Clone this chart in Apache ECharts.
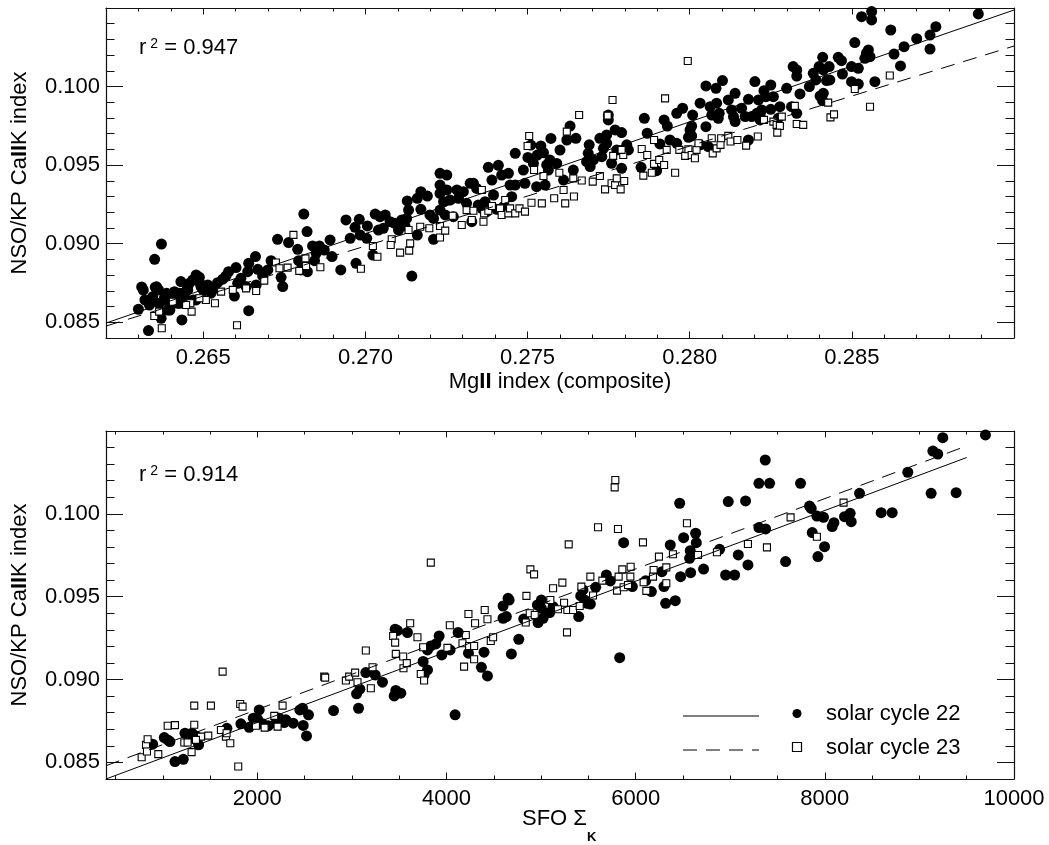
<!DOCTYPE html>
<html>
<head>
<meta charset="utf-8">
<script src="https://cdn.jsdelivr.net/npm/echarts@6/dist/echarts.min.js"></script>
<style>
html, body { margin: 0; padding: 0; background: #fff; }
#chart { width: 1049px; height: 845px; }
</style>
</head>
<body>
<div id="chart"></div>
<script>
var FONT = "'Liberation Sans', Arial, Helvetica, sans-serif";

// tick values
var mgMajor = [0.265, 0.270, 0.275, 0.280, 0.285];
var mgMinor = [0.263, 0.264, 0.266, 0.267, 0.268, 0.269, 0.271, 0.272, 0.273, 0.274, 0.276, 0.277, 0.278, 0.279, 0.281, 0.282, 0.283, 0.284, 0.286, 0.287, 0.288, 0.289];
var caMajor = [0.085, 0.090, 0.095, 0.100];
var caMinor = [0.086, 0.087, 0.088, 0.089, 0.091, 0.092, 0.093, 0.094, 0.096, 0.097, 0.098, 0.099, 0.101, 0.102, 0.103, 0.104];
var sfoMajor = [2000, 4000, 6000, 8000, 10000];
var sfoMinor = [500, 1000, 1500, 2500, 3000, 3500, 4500, 5000, 5500, 6500, 7000, 7500, 8500, 9000, 9500];

// MgII index vs CaIIK, solar cycle 22
var mg22 = [
  [0.26331,0.08447],[0.26300,0.08583],[0.26310,0.08725],[0.26350,0.08901],[0.26371,0.08998],[0.26320,0.08642],[0.26334,0.08610],[0.26352,0.08723],
  [0.26362,0.08706],[0.26344,0.08663],[0.26364,0.08621],[0.26380,0.08653],[0.26370,0.08525],[0.26390,0.08578],[0.26395,0.08621],[0.26406,0.08663],
  [0.26411,0.08695],[0.26421,0.08621],[0.26431,0.08759],[0.26434,0.08515],[0.26442,0.08663],[0.26452,0.08706],[0.26457,0.08748],[0.26467,0.08769],
  [0.26478,0.08801],[0.26488,0.08786],[0.26493,0.08727],[0.26478,0.08642],[0.26503,0.08706],[0.26514,0.08738],[0.26524,0.08685],[0.26534,0.08716],
  [0.26544,0.08752],[0.26560,0.08774],[0.26570,0.08795],[0.26578,0.08822],[0.26596,0.08667],[0.26601,0.08848],[0.26606,0.08748],[0.26616,0.08780],
  [0.26632,0.08727],[0.26637,0.08822],[0.26640,0.08875],[0.26640,0.08574],[0.26661,0.08918],[0.26668,0.08837],[0.26663,0.08738],[0.26683,0.08795],
  [0.26699,0.08833],[0.26709,0.08892],[0.26729,0.09028],[0.26740,0.08786],[0.26745,0.08727],[0.26763,0.09007],[0.26791,0.08964],[0.26794,0.08892],
  [0.26810,0.09189],[0.26820,0.09077],[0.26821,0.08822],[0.26801,0.08833],[0.26837,0.08986],[0.26848,0.08939],[0.26858,0.08986],[0.26873,0.08960],
  [0.26891,0.09024],[0.26897,0.08918],[0.26843,0.08892],
  [0.26315,0.08705],[0.26356,0.08726],[0.26387,0.08684],[0.26408,0.08642],[0.26428,0.08684],[0.26449,0.08705],[0.26480,0.08790],[0.26490,0.08748],
  [0.26511,0.08726],[0.26367,0.08557],[0.26397,0.08578],[0.26428,0.08621],[0.26469,0.08642],[0.26500,0.08705],
  [0.26924,0.08833],[0.26971,0.08875],[0.27023,0.08928],[0.27143,0.08794],[0.26940,0.09151],[0.26981,0.09155],[0.26968,0.09104],[0.27006,0.09113],
  [0.26953,0.09034],[0.26984,0.09055],[0.27004,0.09034],[0.27030,0.09189],[0.27045,0.09172],[0.27061,0.09183],[0.27040,0.09087],[0.27055,0.09098],
  [0.27076,0.09140],[0.27091,0.09130],[0.27102,0.09087],[0.27112,0.09151],[0.27127,0.09161],[0.27122,0.09113],[0.27133,0.09214],[0.27129,0.09272],
  [0.27160,0.09289],[0.27171,0.09331],[0.27191,0.09303],[0.27171,0.09219],[0.27199,0.09183],[0.27210,0.09161],[0.27160,0.09055],[0.27210,0.09028],
  [0.27230,0.09448],[0.27251,0.09437],[0.27230,0.09373],[0.27230,0.09320],[0.27251,0.09342],[0.27241,0.09267],[0.27230,0.09214],[0.27246,0.09183],
  [0.27271,0.09172],[0.27261,0.09278],[0.27282,0.09342],[0.27287,0.09289],[0.27302,0.09331],[0.27312,0.09257],[0.27323,0.09384],[0.27333,0.09384],
  [0.27343,0.09352],[0.27328,0.09140],[0.27348,0.09246],[0.27359,0.09225],[0.27369,0.09267],[0.27379,0.09486],[0.27395,0.09310],[0.27390,0.09405],
  [0.27410,0.09499],[0.27420,0.09437],[0.27441,0.09448],[0.27446,0.09373],[0.27451,0.09299],[0.27462,0.09575],[0.27462,0.09373],[0.27487,0.09469],
  [0.27492,0.09384],[0.27501,0.09549],[0.27510,0.09628],[0.27518,0.09511],[0.27530,0.09564],[0.27541,0.09622],[0.27549,0.09579],[0.27559,0.09501],
  [0.27569,0.09532],[0.27572,0.09670],[0.27590,0.09511],[0.27600,0.09596],[0.27611,0.09405],[0.27528,0.09363],[0.27554,0.09373],[0.27564,0.09469],
  [0.27431,0.09214],[0.27426,0.09236],[0.27374,0.09204],[0.27405,0.09219],
  [0.27631,0.09749],[0.27621,0.09660],[0.27641,0.09469],[0.27649,0.09671],[0.27690,0.09629],[0.27682,0.09522],[0.27693,0.09491],[0.27687,0.09575],
  [0.27703,0.09533],[0.27723,0.09671],[0.27729,0.09554],[0.27734,0.09607],[0.27744,0.09639],[0.27744,0.09692],[0.27749,0.09819],[0.27749,0.09788],
  [0.27759,0.09512],[0.27770,0.09724],[0.27790,0.09707],[0.27775,0.09597],[0.27806,0.09629],[0.27811,0.09597],[0.27790,0.09480],[0.27850,0.09486],
  [0.27860,0.09798],[0.27869,0.09703],[0.27898,0.09465],[0.27908,0.09635],[0.27921,0.09788],[0.27931,0.09749],[0.27939,0.09660],[0.27960,0.09830],
  [0.27960,0.09639],[0.27978,0.09862],[0.27996,0.09677],[0.28001,0.09724],[0.28006,0.09749],[0.28009,0.09819],[0.28006,0.09686],[0.28032,0.09894],
  [0.28032,0.09629],[0.28050,0.10004],[0.28050,0.09745],[0.28057,0.09618],[0.28063,0.09872],[0.28068,0.09819],[0.28081,0.09989],[0.28083,0.09894],
  [0.28088,0.09798],[0.28091,0.09830],[0.28101,0.10038],[0.28119,0.09915],[0.28129,0.09851],[0.28135,0.09809],[0.28140,0.09957],[0.28140,0.09777],
  [0.28160,0.09862],[0.28171,0.09809],[0.28181,0.09660],[0.28181,0.09919],[0.28201,0.10032],[0.28207,0.09830],[0.28212,0.09915],[0.28217,0.09788],
  [0.28222,0.09851],[0.28229,0.09974],[0.28235,0.09936],[0.28250,0.10010],[0.28250,0.09855],[0.28258,0.09936],[0.28273,0.09798],[0.28278,0.09872],
  [0.28299,0.09989],[0.28217,0.09820],[0.28191,0.09809],
  [0.28319,0.10127],[0.28330,0.10106],[0.28330,0.10067],[0.28314,0.09872],[0.28330,0.09830],[0.28340,0.09953],[0.28369,0.10000],[0.28381,0.10084],
  [0.28389,0.10042],[0.28399,0.10127],[0.28410,0.10186],[0.28412,0.10106],[0.28430,0.10127],[0.28422,0.10038],[0.28432,0.10042],[0.28402,0.09940],
  [0.28412,0.09957],[0.28410,0.09910],[0.28458,0.10186],[0.28468,0.10165],[0.28471,0.10080],[0.28499,0.10127],[0.28520,0.10116],[0.28499,0.10031],
  [0.28520,0.10016],[0.28509,0.10280],[0.28530,0.10445],[0.28561,0.10477],[0.28561,0.10424],[0.28540,0.10180],[0.28551,0.10233],[0.28545,0.10212],
  [0.28556,0.10190],[0.28571,0.10031],[0.28620,0.10360],[0.28630,0.10207],[0.28650,0.10131],[0.28661,0.10254],[0.28700,0.10305],[0.28741,0.10328],
  [0.28741,0.10239],[0.28759,0.10381],[0.28890,0.10462]
];

// MgII index vs CaIIK, solar cycle 23
var mg23 = [
  [0.26372,0.08462],[0.26604,0.08481],[0.26349,0.08540],[0.26364,0.08568],[0.26464,0.08568],[0.26460,0.08621],[0.26536,0.08621],[0.26508,0.08642],
  [0.26488,0.08653],[0.26555,0.08695],[0.26591,0.08706],[0.26663,0.08699],[0.26688,0.08765],[0.26632,0.08716],[0.26724,0.08880],[0.26735,0.08844],
  [0.26760,0.08848],[0.26778,0.09056],[0.26815,0.08907],[0.26796,0.08827],[0.26817,0.08858],[0.26861,0.08850],[0.26447,0.08610],[0.26406,0.08631],
  [0.26986,0.08841],[0.27037,0.08917],[0.27023,0.08985],[0.27081,0.09028],[0.27078,0.08992],[0.27107,0.08943],[0.27135,0.08956],[0.27138,0.09002],
  [0.27133,0.09087],[0.27169,0.09108],[0.27197,0.09098],[0.27230,0.09113],[0.27230,0.09040],[0.27246,0.09083],[0.27269,0.09178],[0.27297,0.09119],
  [0.27312,0.09214],[0.27328,0.09151],[0.27333,0.09210],[0.27359,0.09342],[0.27364,0.09140],[0.27366,0.09193],[0.27379,0.09210],[0.27390,0.09240],
  [0.27415,0.09225],[0.27420,0.09183],[0.27431,0.09278],[0.27441,0.09193],[0.27446,0.09225],[0.27462,0.09193],[0.27475,0.09225],[0.27492,0.09204],
  [0.27512,0.09261],[0.27520,0.09469],[0.27544,0.09257],[0.27549,0.09431],[0.27582,0.09289],[0.27598,0.09452],[0.27611,0.09342],[0.27616,0.09257],
  [0.27505,0.09685],[0.27500,0.09622],
  [0.27659,0.09819],[0.27621,0.09713],[0.27762,0.09915],[0.27924,0.09925],[0.27994,0.10163],[0.27747,0.09815],[0.27641,0.09416],[0.27667,0.09402],
  [0.27701,0.09395],[0.27723,0.09431],[0.27739,0.09346],[0.27759,0.09385],[0.27770,0.09374],[0.27775,0.09416],[0.27787,0.09346],[0.27798,0.09399],
  [0.27643,0.09300],[0.27764,0.09559],[0.27795,0.09565],[0.27790,0.09597],[0.27852,0.09603],[0.27857,0.09433],[0.27883,0.09452],[0.27869,0.09565],
  [0.27890,0.09508],[0.27890,0.09660],[0.27906,0.09533],[0.27921,0.09501],[0.27929,0.09597],[0.27955,0.09452],[0.27968,0.09597],[0.27986,0.09559],
  [0.27996,0.09601],[0.28006,0.09565],[0.28016,0.09544],[0.28021,0.09597],[0.28027,0.09639],[0.28071,0.09575],[0.28068,0.09671],[0.28083,0.09607],
  [0.28095,0.09629],[0.28097,0.09671],[0.28119,0.09686],[0.28126,0.09650],[0.28147,0.09660],[0.28174,0.09624],[0.28210,0.09682],[0.28229,0.09788],
  [0.28258,0.09777],[0.28268,0.09756],[0.28278,0.09749],[0.28270,0.09707],[0.28284,0.09809],
  [0.28324,0.09877],[0.28330,0.09762],[0.28350,0.09756],[0.28427,0.09898],[0.28434,0.09804],[0.28445,0.09823],[0.28509,0.09985],[0.28556,0.09872],
  [0.28617,0.10070]
];

// SFO Sigma_K vs CaIIK, solar cycle 22
var sfo22 = [
  [875,0.08610],[893,0.08610],[1016,0.08650],[1052,0.08636],[1076,0.08626],[1129,0.08505],[1217,0.08519],[1235,0.08676],[1309,0.08676],[1323,0.08646],
  [1351,0.08660],[1379,0.08606],[1678,0.08706],[1826,0.08733],[1914,0.08712],[1957,0.08767],[2003,0.08761],[2020,0.08817],[2055,0.08733],[2115,0.08721],
  [2196,0.08737],[2231,0.08767],[2284,0.08741],[2302,0.08757],[2379,0.08737],[2450,0.08817],[2478,0.08827],[2485,0.08723],[2520,0.08660],[2541,0.08787],
  [2806,0.08813],[3049,0.08914],[3070,0.08827],[3084,0.08942],[3147,0.09042],[3246,0.09028],[3323,0.08984],[3447,0.08901],[3464,0.08934],[3517,0.08918],
  [3457,0.09304],[3482,0.09296],[3587,0.09284],[3753,0.09109],[3763,0.09028],[3799,0.09058],[3799,0.09179],[3834,0.09203],[3887,0.09215],[3922,0.09263],
  [3950,0.09149],[4038,0.09179],[4091,0.08787],[4123,0.09284],[4232,0.09159],[4369,0.09074],[4397,0.09165],[4433,0.09022],
  [4598,0.09444],[4651,0.09490],[4662,0.09480],[4633,0.09380],[4598,0.09370],[4686,0.09155],[4764,0.09243],[4817,0.09366],[4968,0.09344],[4961,0.09450],
  [5003,0.09480],[5003,0.09430],[5021,0.09370],[5091,0.09404],[5127,0.09440],[5398,0.09380],[5419,0.09505],[5443,0.09541],[5461,0.09480],[5486,0.09460],
  [5521,0.09456],[5577,0.09557],[5690,0.09631],[5732,0.09595],[5831,0.09132],[5873,0.09826],[5965,0.09561],[6106,0.09597],[6166,0.09531],[6278,0.09651],
  [6299,0.09561],[6317,0.09460],[6366,0.09812],[6419,0.09476],[6465,0.10064],[6475,0.09621],[6507,0.09856],[6570,0.09732],[6577,0.09778],[6581,0.09645],
  [6634,0.09883],[6641,0.09826],[6718,0.09667],[6887,0.09786],[6951,0.09631],[6979,0.10074],[7046,0.09631],[7085,0.09752],[7162,0.10078],[7187,0.09692],
  [7303,0.10184],[7303,0.09917],[7370,0.10325],[7374,0.09909],[7416,0.10184],[7585,0.09712],[7743,0.10184],[7838,0.10047],[7856,0.10033],[7867,0.09887],
  [7916,0.09987],[7927,0.09742],[7986,0.09979],[7997,0.09802],[8078,0.09923],[8096,0.09947],[8208,0.09983],[8268,0.10003],[8279,0.09953],[8367,0.10124],
  [8596,0.10007],[8712,0.10007],[8877,0.10251],[9124,0.10124],[9142,0.10379],[9194,0.10361],[9247,0.10460],[9388,0.10128],[9698,0.10476]
];

// SFO Sigma_K vs CaIIK, solar cycle 23
var sfo23 = [
  [777,0.08531],[823,0.08606],[840,0.08640],[833,0.08566],[953,0.08550],[1052,0.08721],[1129,0.08725],[1228,0.08620],[1263,0.08620],[1305,0.08562],
  [1333,0.08843],[1333,0.08727],[1404,0.08656],[1351,0.08636],[1481,0.08662],[1509,0.08843],[1615,0.08696],[1633,0.09048],[1668,0.08656],[1675,0.08676],
  [1714,0.08616],[1798,0.08475],[1819,0.08853],[1844,0.08837],[1985,0.08721],[2077,0.08710],[2179,0.08781],[2214,0.08716],[2267,0.08843],[2707,0.09018],
  [2717,0.09012],[2936,0.08994],[2971,0.09018],[3034,0.09042],[3059,0.08984],[3147,0.09175],[3200,0.08948],[3218,0.09074],[3436,0.09263],[3457,0.09223],
  [3464,0.09155],[3542,0.09139],[3545,0.09068],[3580,0.09099],[3616,0.09340],[3693,0.09255],[3728,0.09034],[3753,0.09195],[3763,0.08994],[3834,0.09706],
  [4010,0.09191],[4035,0.09328],[4169,0.09219],[4186,0.09078],[4204,0.09269],[4232,0.09396],[4239,0.09203],[4292,0.09123],[4292,0.09203],[4302,0.09340],
  [4404,0.09420],[4433,0.09364],[4468,0.09233],[4493,0.09255],
  [4845,0.09505],[4887,0.09665],[4926,0.09635],[4838,0.09344],[4880,0.09400],[4933,0.09390],[5098,0.09480],[5127,0.09551],[5225,0.09585],[5243,0.09464],
  [5278,0.09420],[5338,0.09420],[5274,0.09285],[5292,0.09816],[5179,0.09424],[5426,0.09561],[5408,0.09444],[5521,0.09621],[5549,0.09507],[5602,0.09919],
  [5648,0.09597],[5785,0.10204],[5778,0.10160],[5813,0.09909],[5820,0.09621],[5803,0.09537],[5859,0.09665],[5873,0.09557],[5947,0.09681],[5944,0.09621],
  [5919,0.09571],[6077,0.09828],[6084,0.09587],[6113,0.09535],[6190,0.09661],[6183,0.09621],[6246,0.09742],[6324,0.09677],[6324,0.09581],[6394,0.09756],
  [6542,0.09943],[6659,0.09752],[6859,0.09768],[7187,0.09818],[7388,0.09798],[7638,0.09979],[7916,0.09862],[8198,0.10068]
];

// linear fits (end points)
var mgFit22 = [[0.262, 0.08495], [0.290, 0.10487]];
var mgFit23 = [[0.262, 0.08476], [0.290, 0.10258]];
var sfoFit22 = [[400, 0.0840], [9500, 0.1034]];
var sfoFit23 = [[400, 0.0848], [9500, 0.1041]];

var FS = 22;
var chart = echarts.init(document.getElementById('chart'));

function makeAxis(o) {
    var ax = {
        type: 'value',
        gridIndex: o.grid,
        position: o.pos,
        min: o.min,
        max: o.max,
        splitLine: { show: false },
        axisLine: { show: !!o.line, onZero: false, lineStyle: { color: '#111', width: 1.2 } },
        axisTick: { show: true, inside: true, length: o.len, customValues: o.ticks, lineStyle: { color: '#111', width: 1 } },
        axisLabel: { show: false }
    };
    if (o.labels) {
        ax.axisLabel = {
            show: true, customValues: o.labels, formatter: o.fmt, margin: o.margin,
            fontSize: FS, fontFamily: FONT, color: '#000'
        };
    }
    if (o.name) {
        ax.name = o.name;
        ax.nameLocation = 'middle';
        ax.nameGap = o.gap;
        ax.nameTextStyle = {
            fontSize: FS, fontFamily: FONT, color: '#000',
            rich: { b: { fontSize: FS, fontFamily: FONT, fontWeight: 'bold', color: '#000' } }
        };
    }
    return ax;
}

var fmt3 = function (v) { return v.toFixed(3); };
var fmtInt = function (v) { return String(Math.round(v)); };

var xAxes = [
    // top panel
    makeAxis({ grid: 0, pos: 'bottom', min: 0.262, max: 0.290, line: true, len: 6.5, ticks: mgMajor, labels: mgMajor, fmt: fmt3, margin: 9,
               name: 'Mg{b|II} index (composite)', gap: 33 }),
    makeAxis({ grid: 0, pos: 'bottom', min: 0.262, max: 0.290, len: 3.5, ticks: mgMinor }),
    makeAxis({ grid: 0, pos: 'top', min: 0.262, max: 0.290, line: true, len: 6.5, ticks: mgMajor }),
    makeAxis({ grid: 0, pos: 'top', min: 0.262, max: 0.290, len: 3.5, ticks: mgMinor }),
    // bottom panel
    makeAxis({ grid: 1, pos: 'bottom', min: 400, max: 10000, line: true, len: 6.5, ticks: sfoMajor, labels: sfoMajor, fmt: fmtInt, margin: 9 }),
    makeAxis({ grid: 1, pos: 'bottom', min: 400, max: 10000, len: 3.5, ticks: sfoMinor }),
    makeAxis({ grid: 1, pos: 'top', min: 400, max: 10000, line: true, len: 6.5, ticks: sfoMajor }),
    makeAxis({ grid: 1, pos: 'top', min: 400, max: 10000, len: 3.5, ticks: sfoMinor })
];

var yAxes = [];
[0, 1].forEach(function (g) {
    yAxes.push(makeAxis({ grid: g, pos: 'left', min: 0.084, max: 0.105, line: true, len: 17, ticks: caMajor, labels: caMajor, fmt: fmt3, margin: 6,
                          name: 'NSO/KP Ca{b|II}K index', gap: 75 }));
    yAxes.push(makeAxis({ grid: g, pos: 'left', min: 0.084, max: 0.105, len: 8.5, ticks: caMinor }));
    yAxes.push(makeAxis({ grid: g, pos: 'right', min: 0.084, max: 0.105, line: true, len: 17, ticks: caMajor }));
    yAxes.push(makeAxis({ grid: g, pos: 'right', min: 0.084, max: 0.105, len: 8.5, ticks: caMinor }));
});

function fitLine(data, xi, yi, dashed) {
    return {
        type: 'line', data: data, xAxisIndex: xi, yAxisIndex: yi, symbol: 'none', silent: true,
        lineStyle: { color: '#000', width: 1, type: dashed ? [14, 9] : 'solid' }
    };
}
function dots(data, xi, yi) {
    return {
        type: 'scatter', data: data, xAxisIndex: xi, yAxisIndex: yi, symbol: 'circle', symbolSize: 11, silent: true,
        itemStyle: { color: '#000', opacity: 1 }
    };
}
function boxes(data, xi, yi) {
    return {
        type: 'scatter', data: data, xAxisIndex: xi, yAxisIndex: yi, symbol: 'rect', symbolSize: 7, silent: true,
        itemStyle: { color: '#fff', borderColor: '#000', borderWidth: 1.1, opacity: 1 }
    };
}

function label(x, y, text) {
    return { type: 'text', style: { x: x, y: y, text: text, verticalAlign: 'middle', font: FS + 'px ' + FONT, fill: '#000' } };
}
function r2(x, y, value) {
    return {
        type: 'text',
        style: {
            x: x, y: y, verticalAlign: 'middle', fill: '#000',
            text: '{r|r}{s|2}{r| = ' + value + '}',
            rich: {
                r: { fontSize: FS, fontFamily: FONT, fill: '#000' },
                s: { fontSize: 14, fontFamily: FONT, fill: '#000', verticalAlign: 'top', padding: [0, 0, 0, 4] }
            }
        }
    };
}

chart.setOption({
    animation: false,
    backgroundColor: '#fff',
    grid: [
        { left: 106, top: 8, width: 908, height: 330, containLabel: false, outerBoundsMode: 'none' },
        { left: 106, top: 431, width: 908, height: 348, containLabel: false, outerBoundsMode: 'none' }
    ],
    xAxis: xAxes,
    yAxis: yAxes,
    series: [
        fitLine(mgFit22, 0, 0, false),
        fitLine(mgFit23, 0, 0, true),
        dots(mg22, 0, 0),
        boxes(mg23, 0, 0),
        fitLine(sfoFit22, 4, 4, false),
        fitLine(sfoFit23, 4, 4, true),
        dots(sfo22, 4, 4),
        boxes(sfo23, 4, 4)
    ],
    graphic: [
        r2(139, 48, '0.947'),
        r2(139, 475, '0.914'),
        // x title of the lower panel, with a subscript K
        label(522, 819, 'SFO \u03A3'),
        { type: 'text', style: { x: 587, y: 837, text: 'K', verticalAlign: 'middle', font: 'bold 13px ' + FONT, fill: '#000' } },
        // legend
        { type: 'line', shape: { x1: 683, y1: 716, x2: 759, y2: 716 }, style: { stroke: '#000', lineWidth: 1 } },
        { type: 'circle', shape: { cx: 797, cy: 713.5, r: 4.5 }, style: { fill: '#000' } },
        label(826, 714, 'solar cycle 22'),
        { type: 'line', shape: { x1: 683, y1: 750, x2: 759, y2: 750 }, style: { stroke: '#000', lineWidth: 1, lineDash: [14, 9] } },
        { type: 'rect', shape: { x: 792.5, y: 742.5, width: 9, height: 9 }, style: { fill: '#fff', stroke: '#000', lineWidth: 1.2 } },
        label(826, 748, 'solar cycle 23')
    ]
});
</script>
</body>
</html>
